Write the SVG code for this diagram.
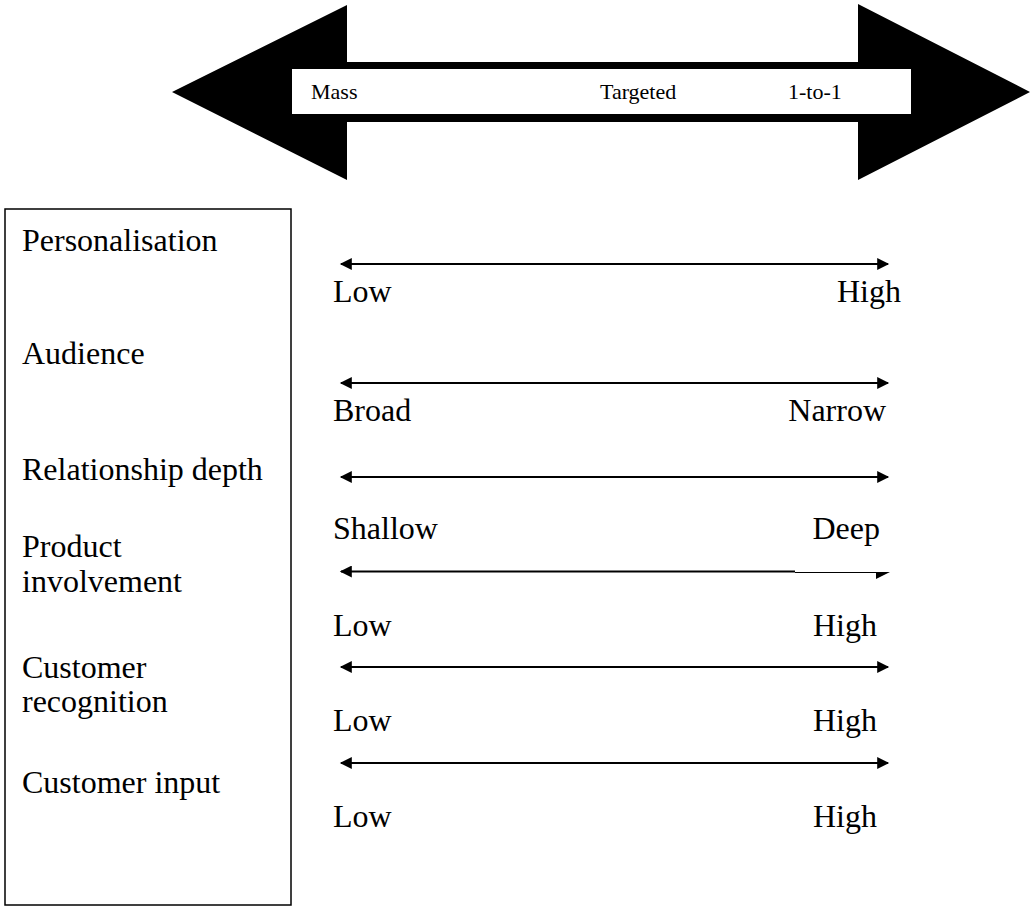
<svg xmlns="http://www.w3.org/2000/svg" width="1035" height="910" viewBox="0 0 1035 910">
<style>
.lbl{font-family:"Liberation Serif","Times New Roman",serif;font-size:32px;fill:#000}
.sm{font-family:"Liberation Serif","Times New Roman",serif;font-size:22px;fill:#000}
.ln{stroke:#000;stroke-width:2;fill:none}
</style>
<defs>
<marker id="ah" viewBox="0 0 10 10" refX="9" refY="5" markerWidth="7" markerHeight="6" markerUnits="strokeWidth" orient="auto-start-reverse">
<path d="M0,0 L10,5 L0,10 z" fill="#000"/>
</marker>
</defs>
<rect width="1035" height="910" fill="#fff"/>
<g id="big-arrow">
<polygon points="172,92 347,5 347,62 858,62 858,4 1030,92 858,180 858,122 347,122 347,180" fill="#000"/>
<rect x="292" y="69" width="619" height="45" fill="#fff"/>
<text class="sm" x="311" y="99">Mass</text>
<text class="sm" x="600" y="99">Targeted</text>
<text class="sm" x="788" y="99">1-to-1</text>
</g>
<g id="dimensions">
<rect x="5" y="209" width="286" height="696" fill="none" stroke="#000" stroke-width="1.5"/>
<text class="lbl" x="22" y="251">Personalisation</text>
<text class="lbl" x="22" y="364">Audience</text>
<text class="lbl" x="22" y="480">Relationship depth</text>
<text class="lbl" x="22" y="557">Product</text>
<text class="lbl" x="22" y="592">involvement</text>
<text class="lbl" x="22" y="678">Customer</text>
<text class="lbl" x="22" y="712">recognition</text>
<text class="lbl" x="22" y="793">Customer input</text>
</g>
<g id="connectors">
<line class="ln" x1="341" y1="264" x2="888" y2="264" marker-start="url(#ah)" marker-end="url(#ah)"/>
<line class="ln" x1="341" y1="383" x2="888" y2="383" marker-start="url(#ah)" marker-end="url(#ah)"/>
<line class="ln" x1="341" y1="477" x2="888" y2="477" marker-start="url(#ah)" marker-end="url(#ah)"/>
<line class="ln" x1="341" y1="571.5" x2="795" y2="571.5" marker-start="url(#ah)"/>
<line x1="795" y1="572.5" x2="877" y2="572.5" stroke="#000" stroke-width="1"/>
<polygon points="876,572 890,572 876,579" fill="#000"/>
<line class="ln" x1="341" y1="667" x2="888" y2="667" marker-start="url(#ah)" marker-end="url(#ah)"/>
<line class="ln" x1="341" y1="763" x2="888" y2="763" marker-start="url(#ah)" marker-end="url(#ah)"/>
</g>
<g id="scale-labels">
<text class="lbl" x="333" y="302">Low</text>
<text class="lbl" x="901" y="302" text-anchor="end">High</text>
<text class="lbl" x="333" y="421">Broad</text>
<text class="lbl" x="886" y="421" text-anchor="end">Narrow</text>
<text class="lbl" x="333" y="539">Shallow</text>
<text class="lbl" x="880" y="539" text-anchor="end">Deep</text>
<text class="lbl" x="333" y="636">Low</text>
<text class="lbl" x="877" y="636" text-anchor="end">High</text>
<text class="lbl" x="333" y="731">Low</text>
<text class="lbl" x="877" y="731" text-anchor="end">High</text>
<text class="lbl" x="333" y="827">Low</text>
<text class="lbl" x="877" y="827" text-anchor="end">High</text>
</g>
</svg>
